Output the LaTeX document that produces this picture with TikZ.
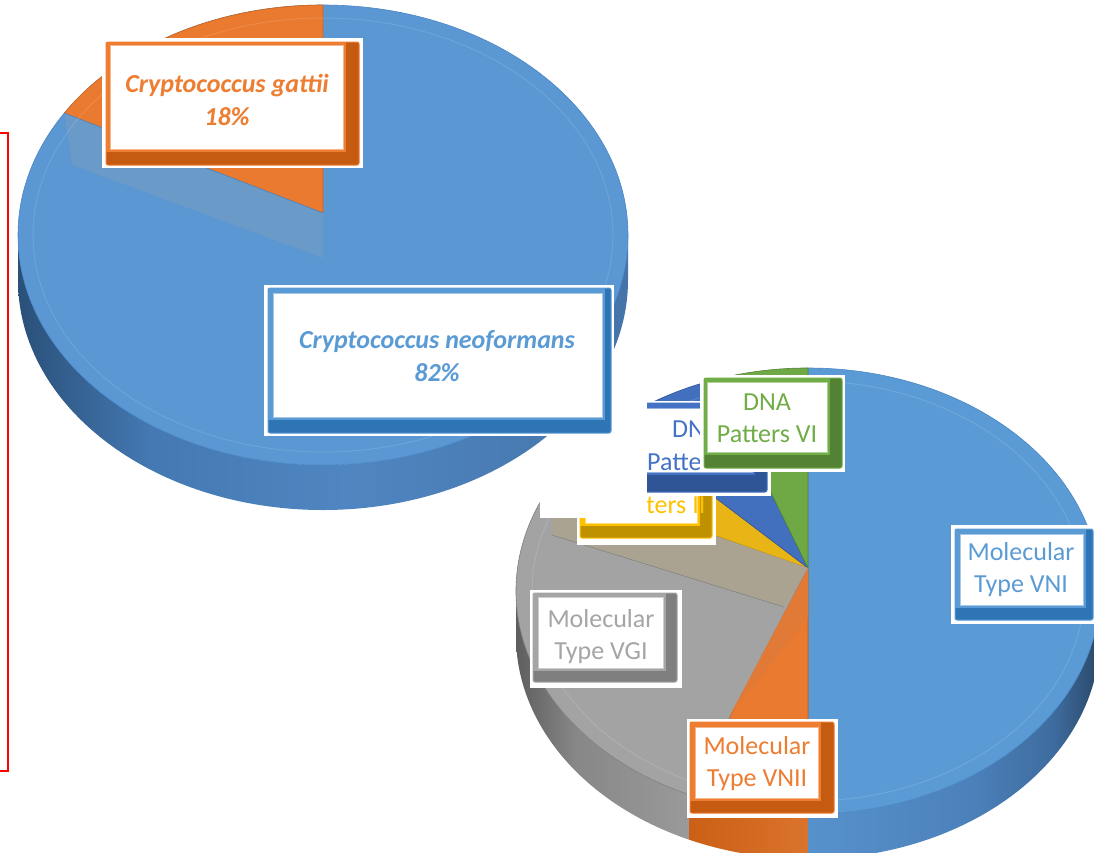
\documentclass[tikz,border=0pt]{standalone}
\usepackage{fontspec}
\setmainfont{Carlito}
\usetikzlibrary{calc}
\definecolor{pieblue}{HTML}{5A97D3}
\definecolor{pieblueline}{HTML}{4A86C4}
\definecolor{ghostblue}{HTML}{6A9AC8}
\definecolor{orangeA}{HTML}{ED7D31}
\definecolor{orangeD}{HTML}{C55A11}
\definecolor{orangePie}{HTML}{E97A30}
\definecolor{orangeGhost}{HTML}{E07A36}
\definecolor{blueA}{HTML}{5B9BD5}
\definecolor{blueD}{HTML}{2E75B6}
\definecolor{grayA}{HTML}{A5A5A5}
\definecolor{grayD}{HTML}{7F7F7F}
\definecolor{grayPie}{HTML}{A3A3A3}
\definecolor{tanPie}{HTML}{AAA392}
\definecolor{yellowA}{HTML}{FFC000}
\definecolor{yellowD}{HTML}{BF9000}
\definecolor{yellowPie}{HTML}{E9B416}
\definecolor{dblueA}{HTML}{4472C4}
\definecolor{dblueD}{HTML}{2F5597}
\definecolor{dbluePie}{HTML}{4270BF}
\definecolor{greenA}{HTML}{70AD47}
\definecolor{greenD}{HTML}{548235}
\definecolor{greenPie}{HTML}{6EA946}
\definecolor{redline}{HTML}{FF0000}
% side colours
\definecolor{sA1}{HTML}{2A5079}
\definecolor{sA2}{HTML}{4479B3}
\definecolor{sA3}{HTML}{4F86C1}
\definecolor{sA4}{HTML}{4574AA}
\definecolor{sB1}{HTML}{5791CC}
\definecolor{sB2}{HTML}{4C82BC}
\definecolor{sB3}{HTML}{3E6C9F}
\definecolor{sB4}{HTML}{2A4868}
\definecolor{sG1}{HTML}{5E5E5E}
\definecolor{sG2}{HTML}{878787}
\definecolor{sG3}{HTML}{9A9A9A}
\pgfdeclarehorizontalshading{pieoneside}{100bp}{color(0bp)=(sA1); color(25bp)=(sA1); color(36bp)=(sA2); color(52bp)=(sA3); color(75bp)=(sA4); color(100bp)=(sA4)}
\pgfdeclarehorizontalshading{pietwoblue}{100bp}{color(0bp)=(sB1); color(25bp)=(sB1); color(52bp)=(sB2); color(67bp)=(sB3); color(75bp)=(sB4); color(100bp)=(sB4)}
\pgfdeclarehorizontalshading{pietwogray}{100bp}{color(0bp)=(sG1); color(25bp)=(sG1); color(42bp)=(sG2); color(75bp)=(sG3); color(100bp)=(sG3)}
\newcommand\bevbox[8]{%
  \fill[white] #1 rectangle #2;
  \fill[#8, rounded corners=2pt] #3 rectangle #4;
  \draw[#7, line width=1pt, rounded corners=2pt] #3 rectangle #4;
  \fill[#7] #3 rectangle ($#6+(2.5,2.5)$);
  \fill[white] #5 rectangle #6;
  \draw[#7!55!white, line width=0.8pt] #5 rectangle #6;
}
\tikzset{
  lbl/.style={align=center, inner sep=0pt, font=\fontsize{26}{32}\selectfont},
  lblbi/.style={align=center, inner sep=0pt, font=\bfseries\itshape\fontsize{26}{33}\selectfont},
  frag/.style={anchor=base west, inner sep=0pt, font=\fontsize{26}{32}\selectfont},
  slice/.style={line width=0.6pt, line join=round},
}
\begin{document}
\begin{tikzpicture}[x=1pt,y=-1pt]
\useasboundingbox (0,0) rectangle (1094,852);
\clip (0,0) rectangle (1094,852);
\fill[white] (0,0) rectangle (1094,852);

% red frame edge
\draw[redline, line width=1.3pt] (0,133) -- (8,133) -- (8,771) -- (0,771);

% ---------------- pie 2 ----------------
\coordinate (A2) at (808,568);
% sides
\shade[shading=pietwogray]
  (516,591) arc[start angle=180, end angle=114, x radius=292, y radius=223]
  -- ++(0,45) arc[start angle=114, end angle=180, x radius=292, y radius=223] -- cycle;
\shade[left color=orangeD!85!orangeA, right color=orangeA!92!black]
  (689.2,794.7) arc[start angle=114, end angle=90, x radius=292, y radius=223]
  -- ++(0,45) arc[start angle=90, end angle=114, x radius=292, y radius=223] -- cycle;
\shade[shading=pietwoblue]
  (808,814) arc[start angle=90, end angle=0, x radius=292, y radius=223]
  -- ++(0,45) arc[start angle=0, end angle=90, x radius=292, y radius=223] -- cycle;
% top faces
\filldraw[slice, fill=blueA, draw=pieblueline] (A2) -- (808,368)
  arc[start angle=-90, end angle=90, x radius=292, y radius=223] -- cycle;
\filldraw[slice, fill=orangePie, draw=orangeD] (A2) -- (808,814)
  arc[start angle=90, end angle=114, x radius=292, y radius=223] -- cycle;
\filldraw[slice, fill=grayPie, draw=grayD] (A2) -- (689.2,794.7)
  arc[start angle=114, end angle=210, x radius=292, y radius=223] -- cycle;
\filldraw[slice, fill=yellowPie, draw=yellowD] (A2) -- (555.1,479.5)
  arc[start angle=210, end angle=229, x radius=292, y radius=223] -- cycle;
\filldraw[slice, fill=dbluePie, draw=dblueD] (A2) -- (616.4,422.7)
  arc[start angle=229, end angle=251.5, x radius=292, y radius=223] -- cycle;
\filldraw[slice, fill=greenPie, draw=greenD] (A2) -- (715.3,379.5)
  arc[start angle=251.5, end angle=270, x radius=292, y radius=223] -- cycle;
% translucent inner faces
\fill[tanPie] (A2) -- (552,479) -- (552,535) -- (784,607) -- cycle;
\draw[grayD, line width=0.5pt] (552,535) -- (784,607);
\fill[orangeGhost] (A2) -- (729,717) -- (808,617) -- cycle;
\draw[white, opacity=0.12, line width=1pt] (808,591) ellipse[x radius=276, y radius=210];

% DNA Patters II (yellow) and DNA Patters (blue) labels
\bevbox{(577,465)}{(716,545)}{(580,468)}{(712,538)}{(585,473)}{(697,523)}{yellowA}{yellowD}
\node[frag, text=yellowA] (ters) at (646,513) {ters II};
\bevbox{(600,401)}{(771,496)}{(610,403)}{(767,492)}{(615,408)}{(752,472)}{dblueA}{dblueD}
\node[frag, text=dblueA] (dn) at (672,437) {DN};
\node[frag, text=dblueA] (patte) at (647,470) {Patte};

% white area covering the top-left of pie 2
\fill[white] (540,380) rectangle (647,518);

% ---------------- pie 1 ----------------
\coordinate (A1) at (323,213);
\shade[shading=pieoneside]
  (18,235) arc[start angle=180, end angle=0, x radius=305, y radius=230]
  -- ++(0,45) arc[start angle=0, end angle=180, x radius=305, y radius=230] -- cycle;
\filldraw[slice, fill=pieblue, draw=pieblueline] (323,235) ellipse[x radius=305, y radius=230];
\filldraw[slice, fill=orangePie, draw=orangeD!70!orangeA] (A1) -- (323,5)
  arc[start angle=-90, end angle=-148, x radius=305, y radius=230] -- cycle;
\fill[ghostblue] (64.3,113.1) -- (72,165) -- (323,258) -- (A1) -- cycle;
\draw[pieblueline, line width=0.6pt] (64.3,113.1) -- (A1);
\draw[white, opacity=0.12, line width=1pt] (323,235) ellipse[x radius=290, y radius=217];

% pie 1 labels
\bevbox{(264,285)}{(614,436)}{(268,288)}{(611,433)}{(273,293)}{(602,417)}{blueA}{blueD}
\node[lblbi, text=blueA] (neo) at (437,356) {Cryptococcus neoformans\\82\%};
\bevbox{(102,38)}{(363,168)}{(106,42)}{(359,165)}{(110,45)}{(343,149)}{orangeA}{orangeD}
\node[lblbi, text=orangeA] (gattii) at (227,100) {Cryptococcus gattii\\18\%};

% pie 2 labels
\bevbox{(700,375)}{(845,472)}{(704,378)}{(842,468)}{(707,382)}{(827,452)}{greenA}{greenD}
\node[lbl, text=greenA] (vi) at (767,418) {DNA\\Patters VI};
\bevbox{(951,525)}{(1094,624)}{(955,529)}{(1093,620)}{(960,534)}{(1083,605)}{blueA}{blueD}
\node[lbl, text=blueA] (vni) at (1021,570) {Molecular\\Type VNI};
\bevbox{(530,590)}{(682,688)}{(533,593)}{(677,682)}{(538,597)}{(663,668)}{grayA}{grayD}
\node[lbl, text=grayA] (vgi) at (601,637) {Molecular\\Type VGI};
\bevbox{(687,719)}{(838,818)}{(690,722)}{(834,813)}{(695,727)}{(818,798)}{orangeA}{orangeD}
\node[lbl, text=orangeA] (vnii) at (757,764) {Molecular\\Type VNII};
\end{tikzpicture}
\end{document}
